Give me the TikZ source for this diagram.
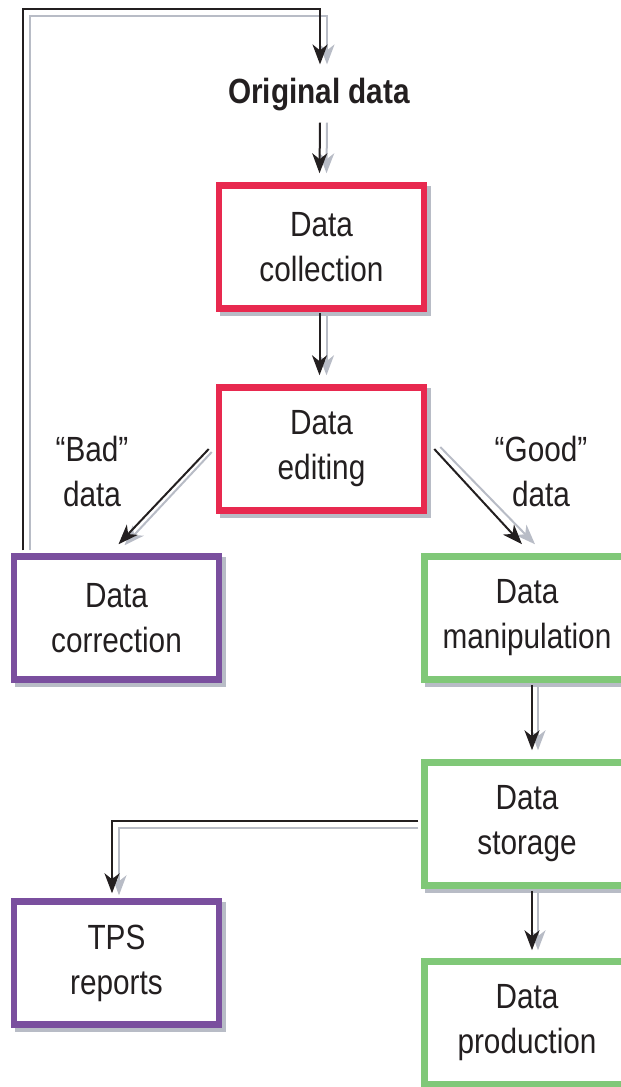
\documentclass[tikz,border=0pt]{standalone}
\usepackage{fontspec}
\setmainfont{Liberation Sans}[FakeStretch=0.85]
\usetikzlibrary{arrows.meta,shadows}

\definecolor{boxred}{HTML}{E8294F}
\definecolor{boxpurple}{HTML}{7A4F9E}
\definecolor{boxgreen}{HTML}{80C878}
\definecolor{shadowgray}{HTML}{B8BCC6}
\definecolor{ink}{HTML}{231F20}

\tikzset{
  box/.style={draw=#1, line width=6.5pt, fill=white, text=ink,
    minimum width=205pt, minimum height=123pt, inner sep=0pt,
    align=center, font=\fontsize{35}{45}\selectfont,
    drop shadow={shadow xshift=4pt, shadow yshift=-4pt,
      fill=shadowgray, draw=shadowgray, line width=6.5pt, opacity=1}},
  label text/.style={text=ink, align=center, inner sep=0pt,
    font=\fontsize{35}{45}\selectfont},
  flow/.style={line width=2pt, line cap=butt,
    -{Stealth[length=20pt, width=15pt, inset=6pt]}},
  blk/.style={flow, draw=ink},
  gry/.style={flow, draw=shadowgray},
}

\begin{document}
\begin{tikzpicture}[x=1pt, y=-1pt]
  \useasboundingbox (0,0) rectangle (621,1087);
  \clip (0,0) rectangle (621,1087);

  % process boxes
  \node[label text, font=\fontsize{35}{45}\selectfont\bfseries] (orig) at (319,95) {Original data};
  \node[box=boxred]    (coll) at (321.5,247)  {Data\\collection};
  \node[box=boxred]    (edit) at (321.5,449)  {Data\\editing};
  \node[box=boxpurple] (corr) at (116.5,618)  {Data\\correction};
  \node[box=boxgreen]  (mani) at (527,618)    {Data\\manipulation};
  \node[box=boxgreen]  (stor) at (527,824)    {Data\\storage};
  \node[box=boxpurple] (tps)  at (116.5,963)  {TPS\\reports};
  \node[box=boxgreen]  (prod) at (527,1023)   {Data\\production};

  % branch labels
  \node[label text] (bad)  at (92,471)  {“Bad”\\data};
  \node[label text] (good) at (541,471) {“Good”\\data};

  % feedback loop from correction back to the original data
  \coordinate (ltopB) at (26,9);
  \coordinate (ltopG) at (33,16);
  \draw[gry] ([xshift=19pt,yshift=3pt]corr.north west) |- (ltopG)
             -| ([xshift=8pt,yshift=14pt]orig.north);
  \draw[blk] ([xshift=12pt,yshift=3pt]corr.north west) |- (ltopB)
             -| ([xshift=1pt,yshift=14pt]orig.north);

  % main vertical flow
  \draw[gry] ([xshift=8pt,yshift=-11pt]orig.south) -- ([xshift=5pt,yshift=9pt]coll.north);
  \draw[blk] ([xshift=1pt,yshift=-11pt]orig.south) -- ([xshift=-2pt,yshift=9pt]coll.north);

  \draw[gry] ([xshift=5pt,yshift=-1pt]coll.south) -- ([xshift=5pt,yshift=9pt]edit.north);
  \draw[blk] ([xshift=-2pt,yshift=-1pt]coll.south) -- ([xshift=-2pt,yshift=9pt]edit.north);

  % split into bad and good data
  \draw[gry] ([xshift=-4pt,yshift=-3pt]edit.west) -- ([xshift=8pt,yshift=8pt]corr.north);
  \draw[blk] ([xshift=-7pt]edit.west) -- ([xshift=2pt,yshift=9pt]corr.north);

  \draw[gry] ([xshift=13pt,yshift=2pt]edit.east) -- ([xshift=8pt,yshift=9pt]mani.north);
  \draw[blk] ([xshift=7pt]edit.east) -- ([xshift=-5pt,yshift=9pt]mani.north);

  % right-hand column
  \draw[gry] ([xshift=11pt,yshift=-2pt]mani.south) -- ([xshift=11pt,yshift=9pt]stor.north);
  \draw[blk] ([xshift=5pt,yshift=-2pt]mani.south) -- ([xshift=5pt,yshift=9pt]stor.north);

  \draw[gry] ([xshift=11pt,yshift=-2pt]stor.south) -- ([xshift=11pt,yshift=8pt]prod.north);
  \draw[blk] ([xshift=5pt,yshift=-2pt]stor.south) -- ([xshift=5pt,yshift=8pt]prod.north);

  % storage feeds the reports
  \draw[gry] ([xshift=-3pt,yshift=-4pt]stor.west) -| ([xshift=2.5pt,yshift=3pt]tps.north);
  \draw[blk] ([xshift=-3pt,yshift=3pt]stor.west) -| ([xshift=-4.5pt,yshift=5pt]tps.north);
\end{tikzpicture}
\end{document}
